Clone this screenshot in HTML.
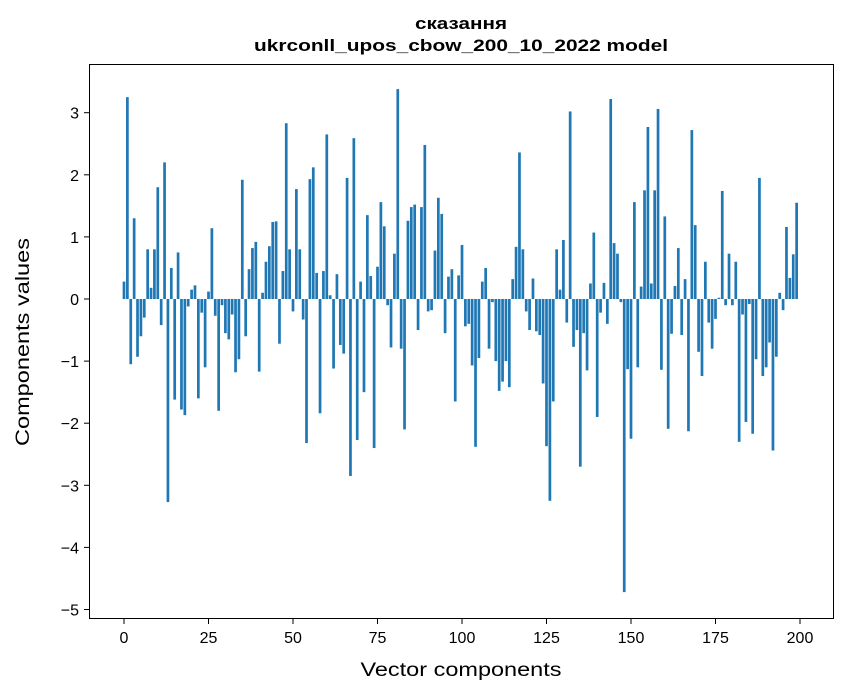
<!DOCTYPE html>
<html><head><meta charset="utf-8"><style>
body{margin:0;background:#fff}
svg{display:block;font-family:"Liberation Sans",sans-serif}
</style></head><body>
<svg id="chart" width="847" height="696" viewBox="0 0 847 696">
<rect width="847" height="696" fill="#fff"/>
<text x="461" y="29" text-anchor="middle" font-size="17" font-weight="bold" textLength="92" lengthAdjust="spacingAndGlyphs">сказання</text>
<text x="461" y="51" text-anchor="middle" font-size="17" font-weight="bold" textLength="414" lengthAdjust="spacingAndGlyphs">ukrconll_upos_cbow_200_10_2022 model</text>
<g id="bars"></g>
<g id="xticks"></g>
<g id="yticks"></g>
<rect x="89.5" y="64.5" width="744" height="554" fill="none" stroke="#000" stroke-width="1"/>
<text x="461" y="676" text-anchor="middle" font-size="19" textLength="201" lengthAdjust="spacingAndGlyphs">Vector components</text>
<text transform="translate(29,342) rotate(-90)" text-anchor="middle" font-size="19" textLength="208" lengthAdjust="spacingAndGlyphs">Components values</text>
</svg>
<script>
const values=[0.28,3.25,-1.05,1.3,-0.93,-0.6,-0.3,0.8,0.18,0.8,1.8,-0.42,2.2,-3.27,0.5,-1.62,0.75,-1.78,-1.87,-0.12,0.15,0.22,-1.6,-0.22,-1.1,0.12,1.14,-0.27,-1.8,-0.1,-0.55,-0.65,-0.25,-1.18,-0.97,1.92,-0.6,0.48,0.82,0.92,-1.17,0.1,0.6,0.85,1.24,1.25,-0.72,0.45,2.83,0.8,-0.2,1.77,0.8,-0.33,-2.32,1.93,2.12,0.42,-1.84,0.45,2.65,0.06,-1.12,0.4,-0.74,-0.88,1.95,-2.85,2.59,-2.27,0.28,-1.5,1.35,0.37,-2.4,0.52,1.56,1.17,-0.1,-0.78,0.73,3.38,-0.8,-2.1,1.26,1.48,1.52,-0.5,1.48,2.48,-0.2,-0.18,0.78,1.63,1.37,-0.55,0.36,0.48,-1.65,0.38,0.87,-0.44,-0.4,-1.07,-2.38,-0.95,0.28,0.5,-0.8,-0.05,-1.0,-1.48,-1.33,-1.0,-1.42,0.32,0.84,2.36,0.8,-0.2,-0.5,0.33,-0.52,-0.58,-1.36,-2.37,-3.25,-1.65,0.8,0.15,0.95,-0.38,3.02,-0.77,-0.5,-2.7,-0.55,-1.15,0.25,1.07,-1.9,-0.22,0.26,-0.4,3.22,0.9,0.73,-0.05,-4.72,-1.13,-2.25,1.56,-1.1,0.2,1.75,2.77,0.25,1.75,3.06,-1.14,1.33,-2.09,-0.56,0.21,0.82,-0.58,0.32,-2.13,2.72,1.19,-0.85,-1.24,0.6,-0.38,-0.8,-0.32,0.02,1.74,-0.1,0.73,-0.1,0.6,-2.3,-0.25,-1.98,-0.08,-2.17,-0.97,1.95,-1.24,-1.1,-0.7,-2.44,-0.93,0.1,-0.18,1.16,0.34,0.72,1.55];
const xTickValues=[0,25,50,75,100,125,150,175,200];
const yTickValues=[3,2,1,0,-1,-2,-3,-4,-5];
const yTickLabels=["3","2","1","0","\u22121","\u22122","\u22123","\u22124","\u22125"];
const NS="http://www.w3.org/2000/svg";
function xs(v){return 124+v*3.38;}
function ys(v){return 299-v*62.1;}
const bars=document.getElementById('bars');
values.forEach((v,i)=>{
  const r=document.createElementNS(NS,'rect');
  
  
  const w=0.8*3.38;
  r.setAttribute('x',xs(i)-w/2);
  r.setAttribute('width',w);
  r.setAttribute('y',Math.min(ys(v),ys(0)));
  r.setAttribute('height',Math.abs(ys(v)-ys(0)));
  r.setAttribute('fill','#1f77b4');
  bars.appendChild(r);
});
const xg=document.getElementById('xticks');
xTickValues.forEach(t=>{
  const l=document.createElementNS(NS,'line');
  
  
  l.setAttribute('x1',xs(t));l.setAttribute('x2',xs(t));
  l.setAttribute('y1',618.5);l.setAttribute('y2',624);
  l.setAttribute('stroke','#000');
  xg.appendChild(l);
  const tx=document.createElementNS(NS,'text');
  
  
  tx.setAttribute('x',xs(t));tx.setAttribute('y',643);
  tx.setAttribute('text-anchor','middle');tx.setAttribute('font-size','16');
  tx.textContent=String(t);
  xg.appendChild(tx);
});
const yg=document.getElementById('yticks');
yTickValues.forEach((t,i)=>{
  const l=document.createElementNS(NS,'line');
  
  
  l.setAttribute('x1',84);l.setAttribute('x2',89.5);
  l.setAttribute('y1',ys(t));l.setAttribute('y2',ys(t));
  l.setAttribute('stroke','#000');
  yg.appendChild(l);
  const tx=document.createElementNS(NS,'text');
  
  
  tx.setAttribute('x',79);tx.setAttribute('y',ys(t)+6);
  tx.setAttribute('text-anchor','end');tx.setAttribute('font-size','16');
  tx.textContent=yTickLabels[i];
  yg.appendChild(tx);
});
</script>
</body></html>
